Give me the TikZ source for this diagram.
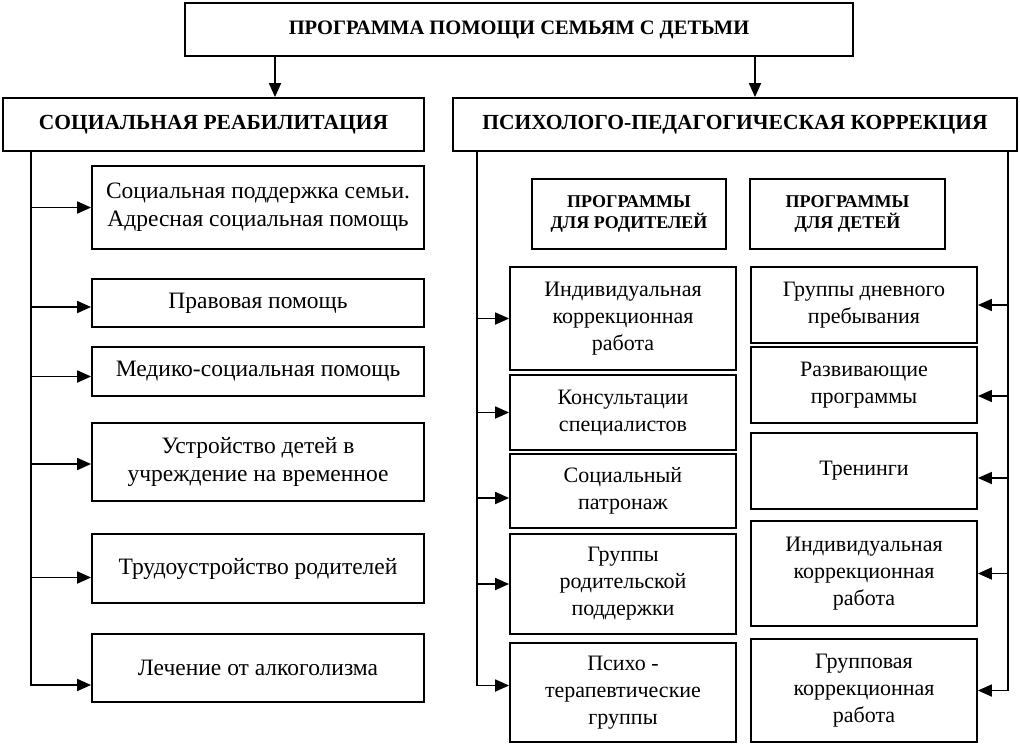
\documentclass[tikz,border=0pt]{standalone}
\usepackage{fontspec}
\setmainfont{Liberation Serif}
\usetikzlibrary{arrows.meta}
\begin{document}
\begin{tikzpicture}[x=1pt,y=-1pt,
		box/.style={draw,line width=1.8pt,align=center,inner sep=1pt,font=\fontsize{23.5}{28}\selectfont},
		rbox/.style={box,minimum width=226,font=\fontsize{22}{27}\selectfont},
		head/.style={box,minimum height=53,font=\bfseries\fontsize{21.5}{26}\selectfont},
		subhead/.style={box,minimum height=70,font=\bfseries\fontsize{18}{21}\selectfont},
		arr/.style={line width=1.8pt,-{Triangle[length=14pt,width=12pt]}}]
		\useasboundingbox (0,0) rectangle (1020,744);
		\node[box,font=\bfseries\fontsize{20.5}{24}\selectfont,minimum width=668,minimum height=53] (top) at (519,29.5) {ПРОГРАММА ПОМОЩИ СЕМЬЯМ С ДЕТЬМИ};
		\node[head,minimum width=421] (soc) at (213.5,124.5) {СОЦИАЛЬНАЯ РЕАБИЛИТАЦИЯ};
		\node[head,minimum width=564] (psy) at (735,124.5) {ПСИХОЛОГО-ПЕДАГОГИЧЕСКАЯ КОРРЕКЦИЯ};
		
		\node[box,minimum width=332,minimum height=83] (s1) at (258,207.5) {Социальная поддержка семьи.\\Адресная социальная помощь};
		\node[box,minimum width=332,minimum height=48] (s2) at (258,303) {Правовая помощь};
		\node[box,minimum width=332,minimum height=49] (s3) at (258,371.5) {Медико-социальная помощь};
		\node[box,minimum width=332,minimum height=78] (s4) at (258,462) {Устройство детей в\\учреждение на временное};
		\node[box,minimum width=332,minimum height=69] (s5) at (258,568.5) {Трудоустройство родителей};
		\node[box,minimum width=332,minimum height=68] (s6) at (258,668) {Лечение от алкоголизма};
		
		\node[subhead,minimum width=194] (par) at (629,214) {ПРОГРАММЫ\\ДЛЯ РОДИТЕЛЕЙ};
		\node[subhead,minimum width=195] (kid) at (847.5,214) {ПРОГРАММЫ\\ДЛЯ ДЕТЕЙ};
		
		\node[rbox,minimum height=103] (p1) at (623,318.5) {Индивидуальная\\коррекционная\\работа};
		\node[rbox,minimum height=75] (p2) at (623,412.5) {Консультации\\специалистов};
		\node[rbox,minimum height=74] (p3) at (623,491) {Социальный\\патронаж};
		\node[rbox,minimum height=100] (p4) at (623,584) {Группы\\родительской\\поддержки};
		\node[rbox,minimum height=99] (p5) at (623,692.5) {Психо -\\терапевтические\\группы};
		
		\node[rbox,minimum height=76] (k1) at (864,305) {Группы дневного\\пребывания};
		\node[rbox,minimum height=76] (k2) at (864,385) {Развивающие\\программы};
		\node[rbox,minimum height=76] (k3) at (864,471) {Тренинги};
		\node[rbox,minimum height=105] (k4) at (864,573.5) {Индивидуальная\\коррекционная\\работа};
		\node[rbox,minimum height=103] (k5) at (864,690.5) {Групповая\\коррекционная\\работа};
		
		\coordinate (sbus) at (31,151);
		\coordinate (pbus) at (477,151);
		\coordinate (kbus) at (1008,151);
		
		\draw[arr] (top.south -| 275,0) -- (soc.north -| 275,0);
		\draw[arr] (top.south -| 755,0) -- (psy.north -| 755,0);
		
		\draw[arr] (sbus) |- ([yshift=-17pt]s6.west);
		\draw[arr] (s1.west -| sbus) -- (s1.west);
		\draw[arr] ([yshift=-4pt]s2.west -| sbus) -- ([yshift=-4pt]s2.west);
		\draw[arr] ([yshift=-5pt]s3.west -| sbus) -- ([yshift=-5pt]s3.west);
		\draw[arr] ([yshift=-2pt]s4.west -| sbus) -- ([yshift=-2pt]s4.west);
		\draw[arr] ([yshift=-9pt]s5.west -| sbus) -- ([yshift=-9pt]s5.west);
		
		\draw[arr] (pbus) |- ([yshift=7pt]p5.west);
		\draw[arr] (p1.west -| pbus) -- (p1.west);
		\draw[arr] (p2.west -| pbus) -- (p2.west);
		\draw[arr] ([yshift=-7pt]p3.west -| pbus) -- ([yshift=-7pt]p3.west);
		\draw[arr] (p4.west -| pbus) -- (p4.west);
		
		\draw[arr] (kbus) |- (k5.east);
		\draw[arr] (k1.east -| kbus) -- (k1.east);
		\draw[arr] ([yshift=-11pt]k2.east -| kbus) -- ([yshift=-11pt]k2.east);
		\draw[arr] ([yshift=-7pt]k3.east -| kbus) -- ([yshift=-7pt]k3.east);
		\draw[arr] (k4.east -| kbus) -- (k4.east);
		\end{tikzpicture}
\end{document}
